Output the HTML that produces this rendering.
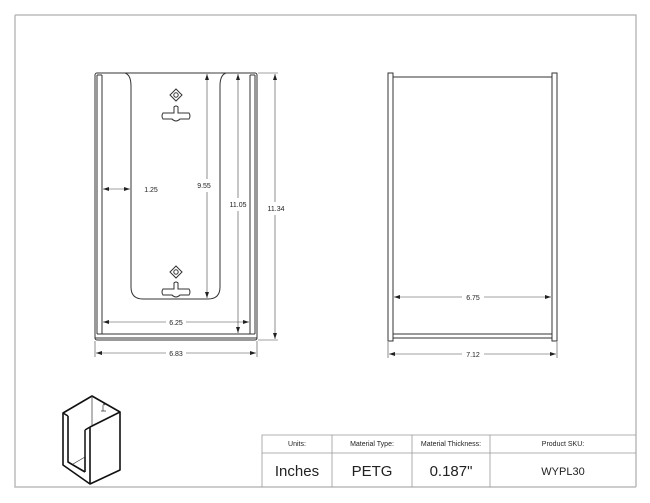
<!DOCTYPE html>
<html><head><style>
html,body{margin:0;padding:0;background:#fff;}
svg{display:block;font-family:"Liberation Sans",sans-serif;}
</style></head><body>
<svg width="650" height="503" viewBox="0 0 650 503" xmlns="http://www.w3.org/2000/svg">
<defs>
<marker id="a" markerWidth="6" markerHeight="4" refX="6" refY="2" orient="auto-start-reverse" markerUnits="userSpaceOnUse"><path d="M0,0 L6,2 L0,4z" fill="#222"/></marker>
</defs>
<!-- frame -->
<path d="M15,15 H636 V487" fill="none" stroke="#bbb" stroke-width="1.5"/>
<path d="M15,15 V487 H636" fill="none" stroke="#bbb" stroke-width="1.5"/>

<g fill="none" stroke="#333" stroke-width="1">
<!-- front view -->
<rect x="95" y="73" width="162" height="267" rx="2"/>
<path d="M97,75 V334 M102,75 V334 M97,75 H102"/>
<path d="M255,75 V334 M250,75 V334 M250,75 H255"/>
<path d="M97,334 H255 M95,338 H257"/>
<path d="M102,73 H125 Q131,75 131,86 V287 Q131,299 143,299 H208 Q220,299 220,287 V86 Q220,75 226,73 H250"/>
<!-- keyholes -->
<path d="M176,89 L182,95 L176,101 L170,95Z"/><circle cx="176" cy="95" r="2.2"/>
<path d="M174,107 Q176,105 178,107 V113 H189 Q191,116 189,119 H180 Q176,123 172,119 H163 Q161,116 163,113 H174Z"/>
<path d="M176,266 L182,272 L176,278 L170,272Z"/><circle cx="176" cy="272" r="2.2"/>
<path d="M174,283 Q176,281 178,283 V289 H189 Q191,292 189,295 H180 Q176,299 172,295 H163 Q161,292 163,289 H174Z"/>
<!-- right view -->
<rect x="388" y="73" width="5" height="268"/>
<rect x="552" y="73" width="5" height="268"/>
<path d="M393,77 H552 M393,334 H552 M393,338 H552"/>
</g>

<!-- dimensions -->
<g stroke="#444" stroke-width="0.6" fill="none">
<line x1="103" y1="189" x2="130" y2="189" marker-start="url(#a)" marker-end="url(#a)"/>
<line x1="207" y1="74" x2="207" y2="179" marker-start="url(#a)"/>
<line x1="207" y1="192" x2="207" y2="298" marker-end="url(#a)"/>
<line x1="221" y1="73" x2="210" y2="73"/>
<line x1="238" y1="74" x2="238" y2="198" marker-start="url(#a)"/>
<line x1="238" y1="211" x2="238" y2="333" marker-end="url(#a)"/>
<line x1="275" y1="74" x2="275" y2="202" marker-start="url(#a)"/>
<line x1="275" y1="215" x2="275" y2="339" marker-end="url(#a)"/>
<line x1="258" y1="73" x2="278" y2="73"/><line x1="258" y1="340" x2="278" y2="340"/>
<line x1="103" y1="322" x2="166" y2="322" marker-start="url(#a)"/>
<line x1="186" y1="322" x2="249" y2="322" marker-end="url(#a)"/>
<line x1="96" y1="353" x2="166" y2="353" marker-start="url(#a)"/>
<line x1="186" y1="353" x2="256" y2="353" marker-end="url(#a)"/>
<line x1="95" y1="341" x2="95" y2="357"/><line x1="257" y1="341" x2="257" y2="357"/>
<line x1="394" y1="297" x2="462" y2="297" marker-start="url(#a)"/>
<line x1="484" y1="297" x2="551" y2="297" marker-end="url(#a)"/>
<line x1="389" y1="354" x2="462" y2="354" marker-start="url(#a)"/>
<line x1="484" y1="354" x2="556" y2="354" marker-end="url(#a)"/>
<line x1="388" y1="342" x2="388" y2="358"/><line x1="557" y1="342" x2="557" y2="358"/>
</g>
<g font-size="7" fill="#222" text-anchor="middle">
<text x="151" y="192">1.25</text>
<text x="204" y="188">9.55</text>
<text x="238" y="207">11.05</text>
<text x="276" y="211">11.34</text>
<text x="176" y="325">6.25</text>
<text x="176" y="356">6.83</text>
<text x="473" y="300">6.75</text>
<text x="473" y="357">7.12</text>
</g>

<!-- iso -->
<g fill="none" stroke="#111" stroke-width="1.6" stroke-linejoin="round">
<path d="M92,396 L120,412 V470 L90,484 L63,465 V413 Z"/>
<path d="M90,427 L120,412 M90,427 V484"/>
<path d="M68,416 V462 L85,472 M85,430 V472 M85,430 L90,427 M63,413 L68,416"/>
</g>
<g fill="none" stroke="#333" stroke-width="0.7">
<path d="M92,396 V425 M73,464 L85,457 M85,457 V430"/>
<path d="M103,405 V411 M101,411 H106 M103,404 L105,405"/>
</g>

<!-- table -->
<g stroke="#999" stroke-width="0.8" fill="none">
<path d="M262,487 V435 H636 M262,453 H636 M332,435 V487 M412,435 V487 M490,435 V487"/>
</g>
<g fill="#222" text-anchor="middle">
<g font-size="7"><text x="297" y="446">Units:</text><text x="372" y="446">Material Type:</text><text x="451" y="446">Material Thickness:</text><text x="563" y="446">Product SKU:</text></g>
<g font-size="15"><text x="297" y="476">Inches</text><text x="372" y="476">PETG</text><text x="451" y="476">0.187"</text></g>
<text x="563" y="475" font-size="11">WYPL30</text>
</g>
</svg>
</body></html>
